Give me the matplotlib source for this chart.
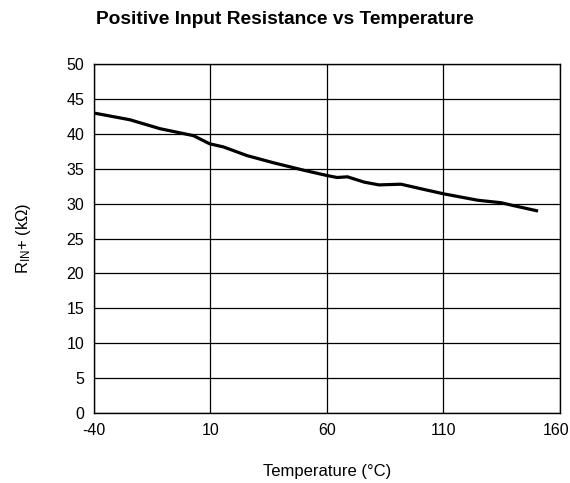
import matplotlib
matplotlib.use("Agg")
import matplotlib.pyplot as plt
import matplotlib.transforms as mtransforms
from matplotlib import font_manager

temps = [-40, -24.6, -11.7, 2.7, 9.6, 15.6, 25.7, 37.2, 50.1, 60.1, 64.4, 68.8,
         76.0, 82.4, 91.8, 101.8, 110.4, 116.2, 124.8, 134.9, 139.2, 150.7]
r_in = [43.0, 42.04, 40.76, 39.76, 38.6, 38.14, 36.9, 35.86, 34.8, 34.04, 33.76, 33.86,
        33.1, 32.7, 32.8, 32.04, 31.4, 31.04, 30.5, 30.14, 29.8, 28.95]
xticks = [-40, 10, 60, 110, 160]
yticks = list(range(0, 55, 5))

names = {f.name for f in font_manager.fontManager.ttflist}
base = 'Liberation Sans'
for cand in ['Liberation Sans Narrow', 'Arial Narrow']:
    if cand in names:
        base = cand
        break
plt.rcParams['font.family'] = [base, 'DejaVu Sans']
plt.rcParams['axes.unicode_minus'] = False
plt.rcParams['mathtext.fontset'] = 'custom'
plt.rcParams['mathtext.rm'] = base
plt.rcParams['mathtext.it'] = base

fig = plt.figure(figsize=(5.7, 4.83), dpi=100)
ax = fig.add_axes([0.165, 0.145, 0.817, 0.722])
ax.plot(temps, r_in, color='black', linewidth=2.3, solid_joinstyle='round', solid_capstyle='butt')
ax.set_xlim(-40, 160)
ax.set_ylim(0, 50)
ax.set_xticks(xticks)
ax.set_yticks(yticks)
ax.set_xticklabels([str(v) for v in xticks])
ax.grid(True, color='black', linewidth=0.9)
for s in ax.spines.values():
    s.set_linewidth(1.0)
ax.tick_params(length=0, labelsize=11.5, pad=7)
# keep the last x tick label inside the canvas
last = ax.get_xticklabels()[-1]
last.set_transform(last.get_transform() + mtransforms.ScaledTranslation(-4 / 100, 0, fig.dpi_scale_trans))
ax.set_xlabel('Temperature (°C)', fontsize=12, labelpad=19)
ax.set_ylabel(r'R$_{\mathregular{IN}}$+ (kΩ)', fontsize=12, labelpad=24)
fig.text(0.5, 0.959, 'Positive Input Resistance vs Temperature', ha='center', va='center',
         fontsize=13.8, fontweight='bold', family=['Liberation Sans', 'DejaVu Sans'])
fig.savefig('out.png', dpi=100)
